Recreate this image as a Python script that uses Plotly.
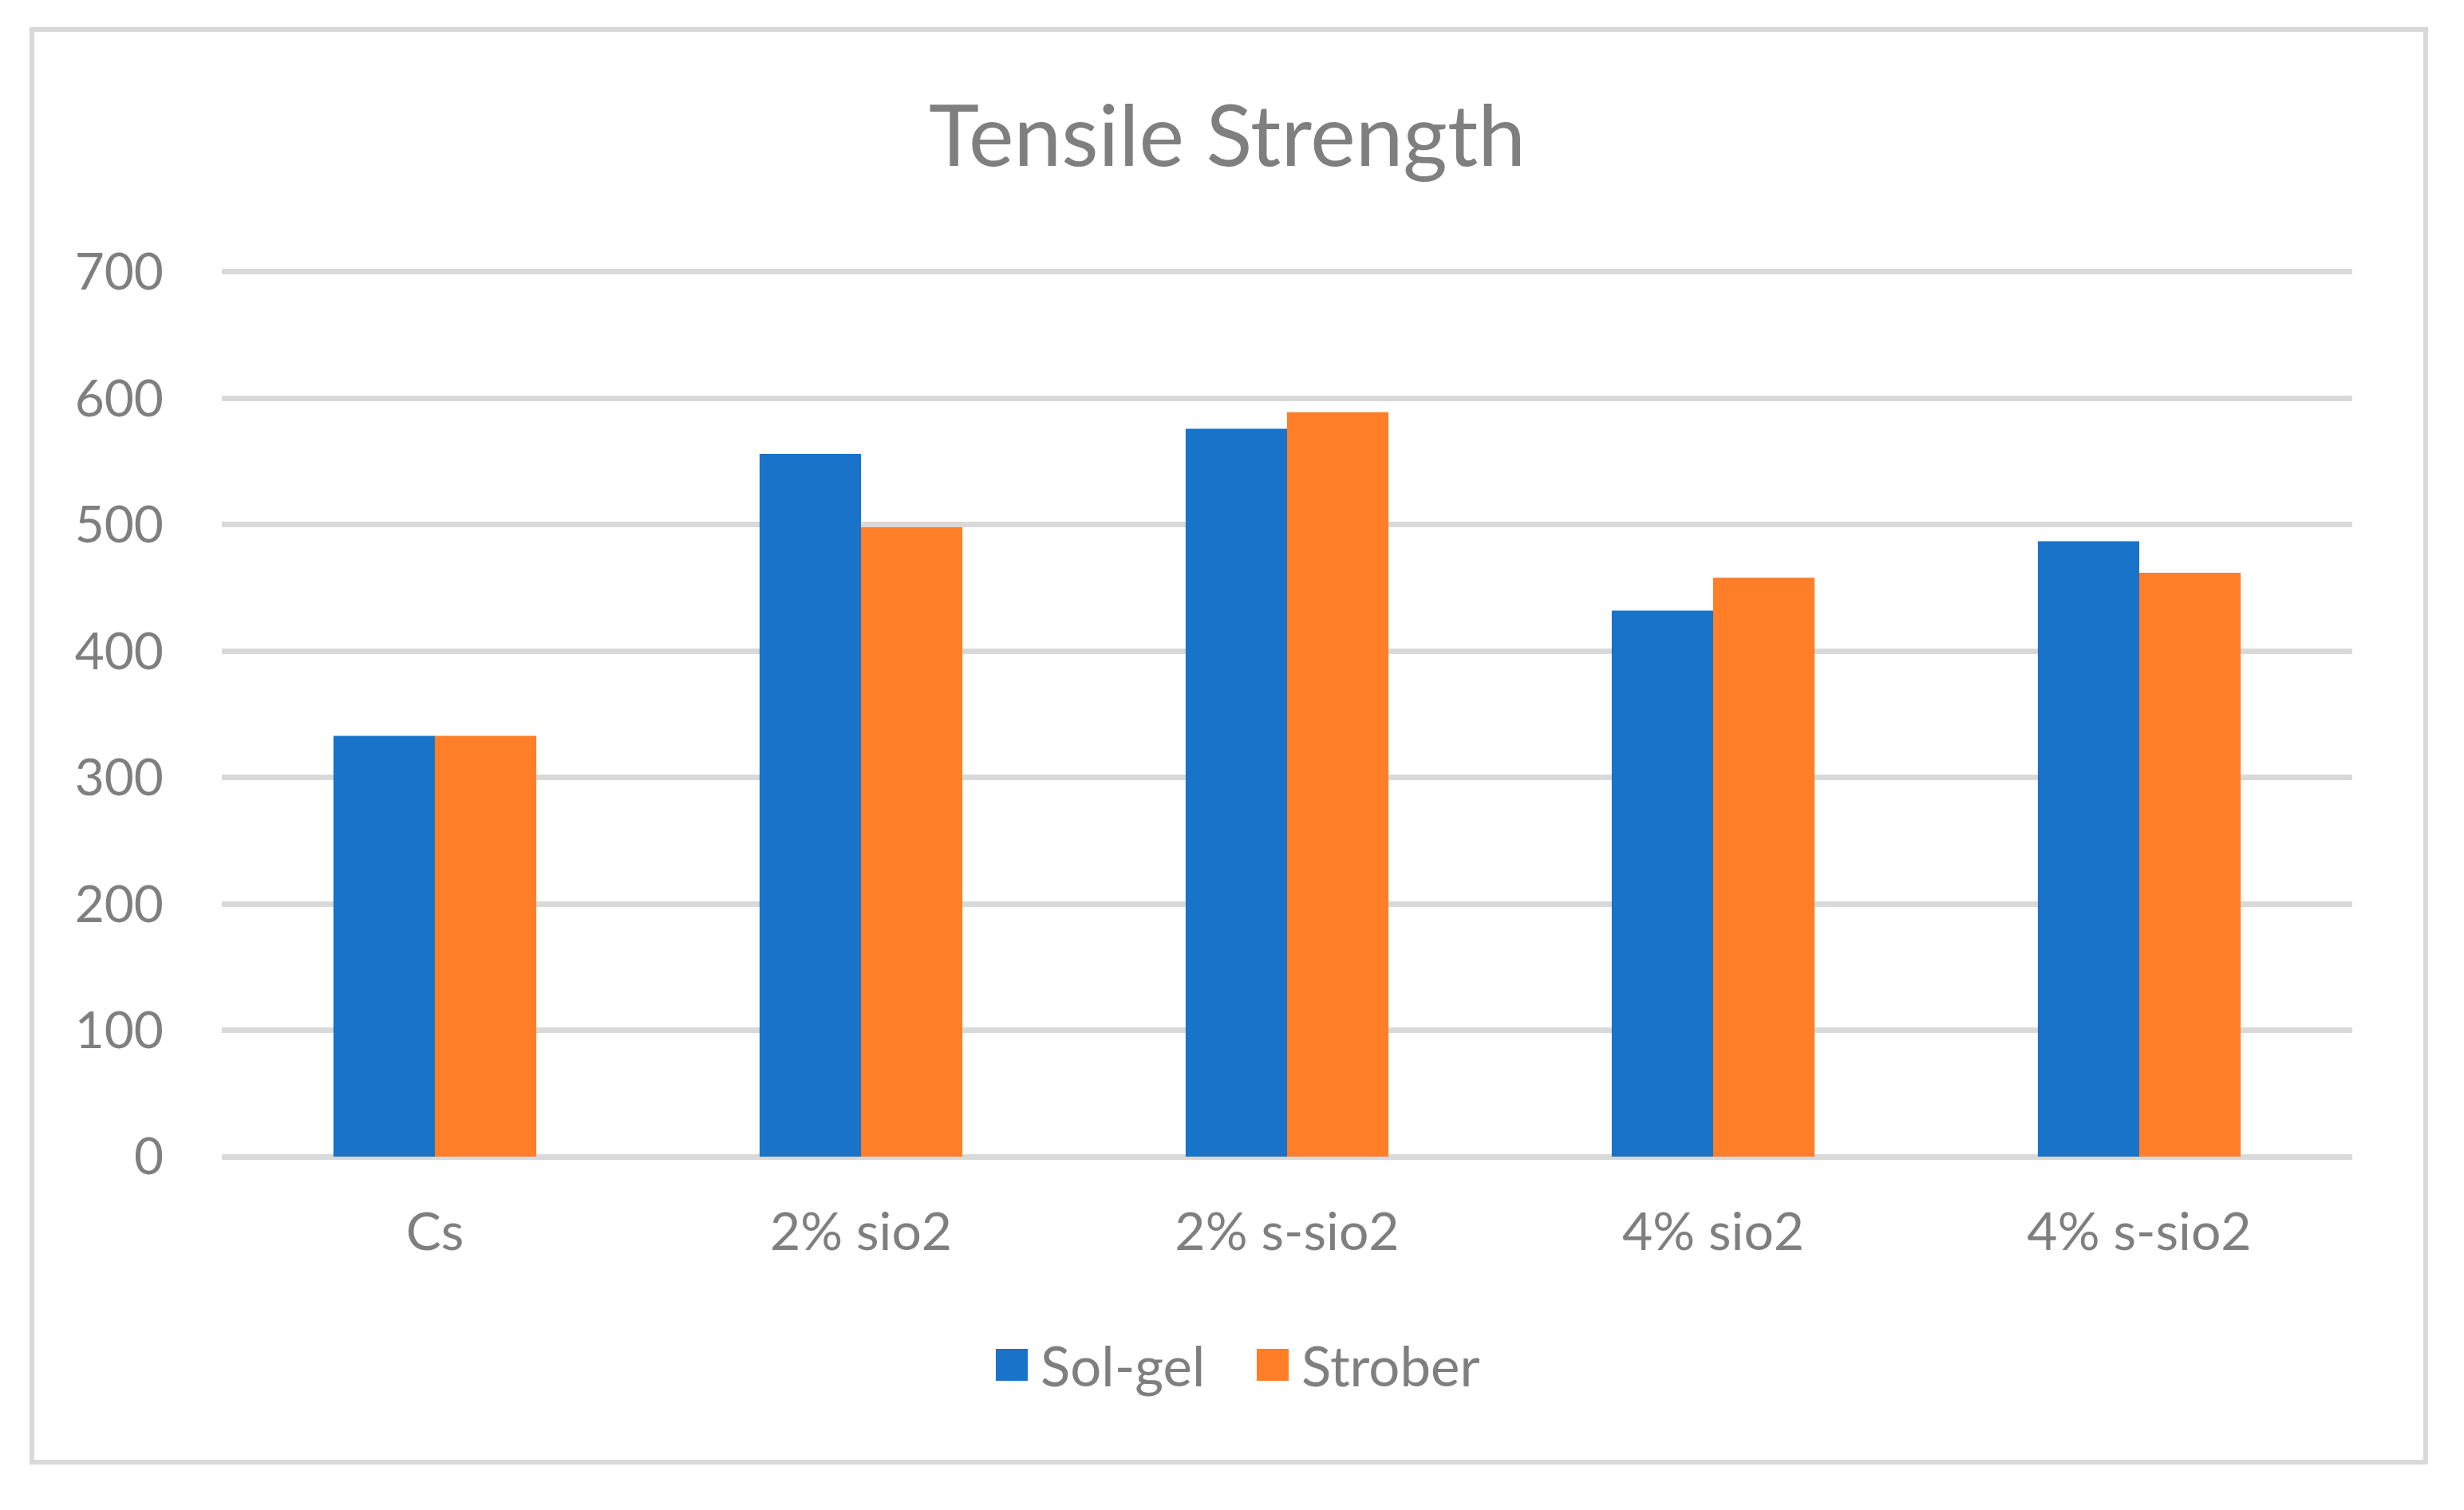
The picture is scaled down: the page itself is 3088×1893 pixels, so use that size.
import plotly.graph_objects as go

# ---- data ----
categories = ["Cs", "2% sio2", "2% s-sio2", "4% sio2", "4% s-sio2"]
series_names = ["Sol-gel", "Strober"]
sol_gel = [333, 556, 576, 432, 487]
strober = [333, 498, 589, 458, 462]
y_ticks = [0, 100, 200, 300, 400, 500, 600, 700]

# ---- style ----
OFF = 8  # browser default body margin
W, H = 3088 - OFF, 1893 - OFF
Y_MAX = 705
PL, PR = 278 - OFF, 2948 - OFF
PB = 1450 - OFF
P700 = 341 - OFF
PT = PB - (PB - P700) * Y_MAX / 700.0
colors = ["#1873c9", "#ff7e27"]
text_color = "#7f7f7f"
grid_color = "#d9d9d9"
FONT = "Lato"


def px_x(p):
    return (p - OFF - PL) / (PR - PL)


def px_y(p):
    return (PB - (p - OFF)) / (PB - PT)


fig = go.Figure()
for name, vals, col in zip(series_names, [sol_gel, strober], colors):
    fig.add_trace(go.Bar(x=categories, y=vals, name=name, marker_color=col,
                         marker_line_width=0, showlegend=False))

fig.update_layout(
    width=W, height=H,
    margin=dict(l=PL, r=W - PR, t=PT, b=H - PB, pad=0),
    paper_bgcolor="white", plot_bgcolor="white",
    barmode="group", bargap=0.524, bargroupgap=0,
    font=dict(family=FONT, color=text_color, size=64),
    title=dict(text="Tensile Strength", x=(1538 - OFF) / W, xanchor="center",
               y=1 - (171 - OFF) / H, yanchor="middle", yref="container",
               font=dict(family=FONT, size=107, color=text_color)),
    xaxis=dict(showgrid=False, showline=False, ticks="", zeroline=False,
               tickfont=dict(size=66), ticklabelstandoff=50),
    yaxis=dict(range=[0, Y_MAX], tickvals=y_ticks, showgrid=True,
               gridcolor=grid_color, gridwidth=7, zeroline=True,
               zerolinecolor=grid_color, zerolinewidth=7,
               showline=False, ticks="", tickfont=dict(size=64),
               ticklabelstandoff=72),
)

# outer chart border
fig.add_shape(type="rect", xref="paper", yref="paper",
              x0=px_x(40), x1=px_x(3040), y0=px_y(1833), y1=px_y(37),
              line=dict(color=grid_color, width=6), fillcolor="rgba(0,0,0,0)",
              layer="below")

# legend (squares + labels)
leg_y = 1711
sq = 40
leg_sq_x = [1248, 1575]
for name, col, sx in zip(series_names, colors, leg_sq_x):
    fig.add_shape(type="rect", xref="paper", yref="paper",
                  x0=px_x(sx), x1=px_x(sx + sq),
                  y0=px_y(leg_y + sq / 2), y1=px_y(leg_y - sq / 2),
                  line=dict(width=0), fillcolor=col)
    fig.add_annotation(xref="paper", yref="paper", x=px_x(sx + sq + 14),
                       y=px_y(leg_y), xanchor="left", yanchor="middle",
                       text=name, showarrow=False,
                       font=dict(family=FONT, size=69, color=text_color))

fig.write_html("out.html")
